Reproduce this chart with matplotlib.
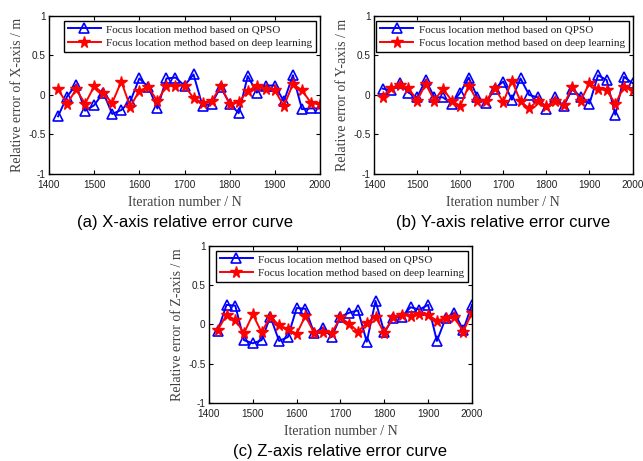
import numpy as np
import matplotlib
matplotlib.use("Agg")
import matplotlib.pyplot as plt

iters = list(range(1420, 2001, 20))

x_qpso = [-0.27, -0.02, 0.13, -0.20, -0.13, 0.03, -0.24, -0.19, -0.08, 0.21,
          0.10, -0.17, 0.21, 0.22, 0.12, 0.26, -0.14, -0.11, 0.10, -0.11,
          -0.23, 0.24, 0.03, 0.12, 0.12, -0.08, 0.25, -0.18, -0.17, -0.17]
x_deep = [0.07, -0.11, 0.07, -0.11, 0.11, 0.02, -0.10, 0.17, -0.15, 0.055,
          0.10, -0.08, 0.12, 0.12, 0.12, -0.04, -0.10, -0.08, 0.11, -0.11,
          -0.09, 0.05, 0.12, 0.08, 0.06, -0.14, 0.14, 0.06, -0.10, -0.12]

y_qpso = [0.08, 0.06, 0.15, 0.03, -0.03, 0.19, -0.03, -0.03, -0.11, 0.03,
          0.22, -0.03, -0.10, 0.08, 0.17, -0.06, 0.21, 0.00, -0.03, -0.18,
          -0.03, -0.14, 0.07, -0.02, -0.11, 0.25, 0.19, -0.25, 0.23, 0.15]
y_deep = [-0.02, 0.09, 0.13, 0.09, -0.07, 0.14, -0.07, 0.08, -0.07, -0.14,
          0.12, -0.08, -0.08, 0.09, -0.09, 0.18, -0.08, -0.17, -0.07, -0.14,
          -0.08, -0.13, 0.10, -0.07, 0.15, 0.08, 0.06, -0.11, 0.10, 0.06]

z_qpso = [-0.08, 0.25, 0.24, -0.20, -0.24, -0.20, 0.10, -0.21, -0.16, 0.21,
          0.20, -0.11, -0.04, -0.16, 0.10, 0.15, 0.18, -0.22, 0.30, -0.10,
          0.08, 0.10, 0.22, 0.19, 0.25, -0.21, 0.08, 0.15, -0.07, 0.25]
z_deep = [-0.07, 0.12, 0.06, -0.11, 0.13, -0.10, 0.10, -0.01, -0.06, -0.12,
          0.11, -0.11, -0.09, -0.11, 0.09, 0.01, -0.09, 0.02, 0.10, -0.11,
          0.10, 0.12, 0.11, 0.14, 0.12, 0.05, 0.08, 0.09, -0.09, 0.15]

legend_labels = ["Focus location method based on QPSO",
                 "Focus location method based on deep learning"]

panels = [
    # rect in figure coords, qpso, deep, ylabel, caption
    ([0.0762, 0.6226, 0.4215, 0.3427], x_qpso, x_deep,
     "Relative error of X-axis / m", "(a) X-axis relative error curve"),
    ([0.5817, 0.6226, 0.4020, 0.3427], y_qpso, y_deep,
     "Relative error of Y-axis / m", "(b) Y-axis relative error curve"),
    ([0.3250, 0.1258, 0.4090, 0.3406], z_qpso, z_deep,
     "Relative error of Z-axis / m", "(c) Z-axis relative error curve"),
]

serif = ["Liberation Serif", "DejaVu Serif"]
sans = ["Liberation Sans", "DejaVu Sans"]
label_col = "#404040"

fig = plt.figure(figsize=(6.43, 4.61), dpi=100)

for rect, qpso, deep, ylab, cap in panels:
    ax = fig.add_axes(rect)
    ax.plot(iters, qpso, color="blue", lw=1.4, marker="^", ms=7,
            mfc="none", mec="blue", mew=1.2, label=legend_labels[0])
    ax.plot(iters, deep, color="red", lw=1.4, marker="*", ms=8.5,
            mfc="red", mec="red", label=legend_labels[1])
    ax.set_xlim(1400, 2000)
    ax.set_ylim(-1, 1)
    ax.set_xticks(range(1400, 2001, 100))
    ax.set_yticks([-1, -0.5, 0, 0.5, 1])
    ax.set_yticklabels(["-1", "-0.5", "0", "0.5", "1"])
    ax.tick_params(direction="in", top=True, right=True, length=3,
                   labelsize=7.2, labelcolor="#202020")
    ax.tick_params(axis="x", pad=4.5)
    ax.tick_params(axis="y", pad=2.5)
    for t in ax.get_xticklabels() + ax.get_yticklabels():
        t.set_family(sans)
    for s in ax.spines.values():
        s.set_linewidth(1.0)
    ax.set_ylabel(ylab, family=serif, fontsize=10, color=label_col, labelpad=3)
    ax.set_xlabel("Iteration number / N", family=serif, fontsize=10,
                  color=label_col, labelpad=4)
    leg = ax.legend(loc="upper right", bbox_to_anchor=(0.995, 0.985),
                    borderaxespad=0.2, fancybox=False, edgecolor="black",
                    framealpha=1, handlelength=3.0, handletextpad=0.5,
                    borderpad=0.35, labelspacing=0.35,
                    prop={"family": serif, "size": 8})
    leg.get_frame().set_linewidth(1.0)
    for t in leg.get_texts():
        t.set_color("#202020")
    ax.text(0.5, -0.31, cap, transform=ax.transAxes, ha="center",
            va="center", family=sans, fontsize=12)

fig.savefig("out.png", dpi=100)
